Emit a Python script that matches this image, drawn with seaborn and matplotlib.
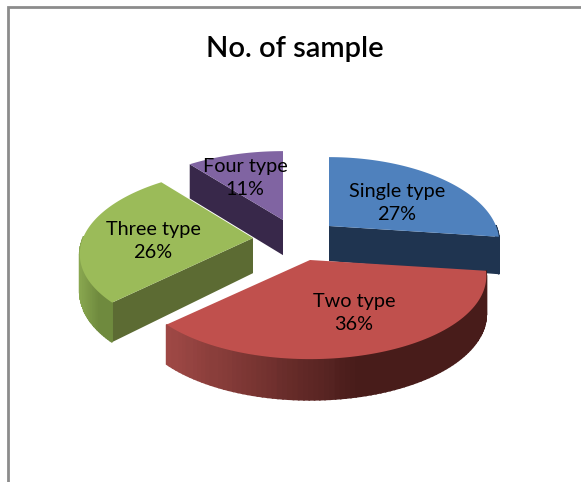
import numpy as np
import seaborn as sns
import matplotlib.pyplot as plt

labels = ["Single type", "Two type", "Three type", "Four type"]
values = [27, 36, 26, 11]
top_colors = ["#4f81bd", "#c0504d", "#9bbb59", "#8064a2"]
cut_colors = ["#1f3450", "#4a1e1c", "#5c6b33", "#38284a"]
wall_left = ["#1f3450", "#9e4845", "#8aa850", "#4a3560"]
wall_right = ["#1f3450", "#481c1a", "#6f8a3e", "#38284a"]

title = "No. of sample"

# screen position of each slice's tip, and where its label sits
apex_x = [329, 310, 253, 283]
apex_y = [226, 260, 238, 220]
label_x = [397, 354, 153, 245]
label_y = [203, 313, 241, 178]

radii = [167, 173, 170, 173]
tilt = 84
depth = 37


def project(theta, i, drop=0.0):
    # fake perspective: the back of the disc is smaller than the front
    rad = np.radians(theta)
    gx, gy = np.cos(rad), np.sin(rad)
    x = apex_x[i] + radii[i] * gx * (1 - 0.2 * gy)
    y = apex_y[i] - tilt * gy * (1 - 0.18 * gy)
    return x, y + drop * depth * (1 - 0.1 * gy)


sns.set_theme(style="white")
plt.rcParams["font.family"] = ["Lato", "DejaVu Sans"]

fig = plt.figure(figsize=(5.81, 4.82), dpi=100)
ax = fig.add_axes([0, 0, 1, 1])
ax.set_xlim(0, 581)
ax.set_ylim(482, 0)
ax.axis("off")

ax.plot([8, 8, 581], [482, 7, 7], color="#8c8c8c", lw=2, solid_joinstyle="miter")

# slice angles, clockwise from twelve o'clock
shares = np.array(values) / sum(values) * 360
ends = 90 - np.cumsum(shares)
starts = ends + shares

# which cut face looks towards the viewer
cut_edge = {0: ends[0], 2: starts[2], 3: starts[3]}

for i in [3, 2, 0, 1]:
    t = np.linspace(starts[i], ends[i], 90)
    x0, y0 = project(t, i)
    x1, y1 = project(t, i, drop=1)

    if i in cut_edge:
        ex0, ey0 = project(cut_edge[i], i)
        ex1, ey1 = project(cut_edge[i], i, drop=1)
        ax.fill([apex_x[i], ex0, ex1, apex_x[i]],
                [apex_y[i], ey0, ey1, apex_y[i] + depth * 0.95],
                color=cut_colors[i], lw=0)

    # curved outer wall, only the part facing front, in shaded strips
    idx = np.where(np.sin(np.radians(t)) < 0.02)[0]
    if len(idx) > 1:
        pal = sns.blend_palette([wall_left[i], wall_right[i]], n_colors=40)
        order = idx[np.argsort(x0[idx])]
        xmin, xmax = x0[order[0]], x0[order[-1]]
        for a, b in zip(order[:-1], order[1:]):
            frac = (x0[a] - xmin) / max(xmax - xmin, 1)
            c = pal[min(int(frac * 1.7 * 39), 39)]
            ax.fill([x0[a], x0[b], x1[b], x1[a]], [y0[a], y0[b], y1[b], y1[a]],
                    color=c, lw=1.2, ec=c)

    # top of the slice
    ax.fill(np.r_[apex_x[i], x0], np.r_[apex_y[i], y0], color=top_colors[i], lw=0)

for i, name in enumerate(labels):
    ax.text(label_x[i], label_y[i], f"{name}\n{values[i]}%", ha="center", va="center",
            fontsize=14.3, color="black", linespacing=1.4)

ax.text(295, 49, title, ha="center", va="center", fontsize=21, fontweight="semibold", color="black")

fig.savefig("out.png", dpi=100)
